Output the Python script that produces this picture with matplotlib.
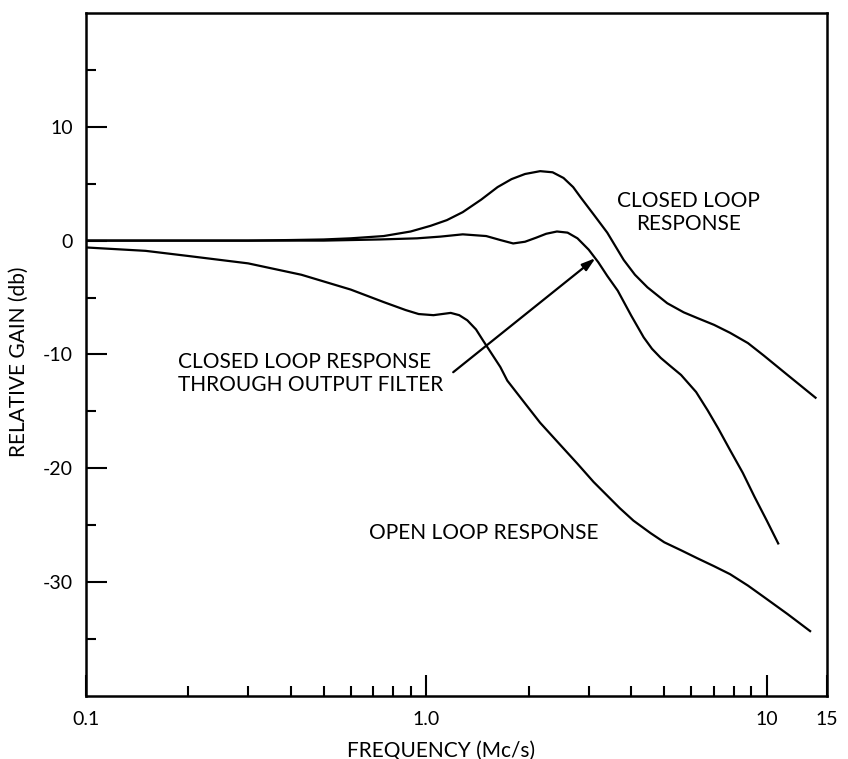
import matplotlib
matplotlib.use('Agg')
import matplotlib.pyplot as plt
from matplotlib.ticker import FixedLocator, NullFormatter
import numpy as np

plt.rcParams['font.family'] = ['Lato', 'DejaVu Sans']

# closed loop response
cl_freq = [0.1, 0.2, 0.3, 0.4, 0.5, 0.6, 0.75, 0.9, 1.03, 1.15, 1.28, 1.45, 1.62, 1.78, 1.95,
           2.16, 2.35, 2.53, 2.7, 2.84, 3.1, 3.4, 3.8, 4.1, 4.46, 5.1, 5.7, 6.25, 7.0, 7.8, 8.8, 9.8, 11.5, 13.9]
cl_gain = [0, 0, 0, 0.05, 0.1, 0.2, 0.4, 0.8, 1.3, 1.8, 2.5, 3.6, 4.7, 5.4, 5.85,
           6.1, 6.0, 5.5, 4.7, 3.8, 2.3, 0.7, -1.7, -3.0, -4.1, -5.5, -6.3, -6.8, -7.4, -8.1, -9.0, -10.1, -11.8, -13.8]

# closed loop response through output filter
flt_freq = [0.1, 0.3, 0.5, 0.73, 0.94, 1.1, 1.28, 1.5, 1.65, 1.8, 1.95, 2.1, 2.25, 2.42,
            2.6, 2.78, 3.0, 3.2, 3.4, 3.65, 4.0, 4.35, 4.6, 4.88, 5.2, 5.6, 6.2, 6.7, 7.2, 7.8, 8.5, 9.2, 10.0, 10.8]
flt_gain = [0, 0, 0, 0.1, 0.2, 0.35, 0.55, 0.4, 0.05, -0.25, -0.1, 0.25, 0.6, 0.8,
            0.7, 0.2, -0.8, -1.9, -3.1, -4.4, -6.6, -8.5, -9.5, -10.3, -11.0, -11.8, -13.3, -14.9, -16.5, -18.4, -20.4, -22.5, -24.6, -26.6]

# open loop response
ol_freq = [0.1, 0.15, 0.2, 0.3, 0.43, 0.6, 0.75, 0.87, 0.95, 1.05, 1.18, 1.25, 1.32, 1.4, 1.47, 1.65,
           1.73, 1.95, 2.16, 2.45, 2.78, 3.1, 3.4, 3.7, 4.06, 4.56, 5.0, 5.6, 6.25, 7.0, 7.8, 8.8, 9.8, 11.5, 13.4]
ol_gain = [-0.6, -0.9, -1.35, -2.0, -3.0, -4.3, -5.4, -6.1, -6.45, -6.55, -6.35, -6.55, -7.0, -7.8, -8.8, -11.1,
           -12.3, -14.3, -16.0, -17.8, -19.6, -21.2, -22.4, -23.5, -24.6, -25.7, -26.5, -27.2, -27.9, -28.6, -29.3, -30.3, -31.3, -32.8, -34.3]

xticks = [0.1, 1.0, 10, 15]
xtick_labels = ['0.1', '1.0', '10', '15']
yticks = [10, 0, -10, -20, -30]

fs = 15
fig = plt.figure(figsize=(8.48, 7.59), dpi=100)
ax = fig.add_axes([0.101, 0.083, 0.874, 0.9])

for f, g in [(cl_freq, cl_gain), (flt_freq, flt_gain), (ol_freq, ol_gain)]:
    ax.plot(f, g, '-', color='black', lw=1.6)

ax.set_xscale('log')
ax.set_xlim(0.1, 15)
ax.set_ylim(-40, 20)

ax.xaxis.set_minor_locator(FixedLocator([v * d for d in [0.1, 1.0] for v in range(2, 10)]))
ax.xaxis.set_minor_formatter(NullFormatter())
ax.set_xticks(xticks)
ax.set_xticklabels(xtick_labels, fontsize=fs - 1)
ax.set_yticks(yticks)
ax.set_yticklabels([str(v) for v in yticks], fontsize=fs - 1)
ax.yaxis.set_minor_locator(FixedLocator([15, 5, -5, -15, -25, -35]))
ax.tick_params(which='major', direction='in', length=15, width=1.5, pad=9)
ax.tick_params(which='minor', direction='in', length=7, width=1.5)
ax.tick_params(axis='x', which='major', pad=11)
for s in ax.spines.values():
    s.set_linewidth(1.8)

ax.set_xlabel('FREQUENCY (Mc/s)', fontsize=fs)
ax.xaxis.set_label_coords(0.48, -0.065)
ax.set_ylabel('RELATIVE GAIN (db)', fontsize=fs)
ax.yaxis.set_label_coords(-0.077, 0.49)

ax.text(5.9, 2.5, 'CLOSED LOOP\nRESPONSE', fontsize=fs, ha='center', va='center',
        multialignment='center', linespacing=1.2)
ax.text(0.187, -11.7, 'CLOSED LOOP RESPONSE\nTHROUGH OUTPUT FILTER', fontsize=fs,
        ha='left', va='center', linespacing=1.2)
ax.text(1.48, -25.7, 'OPEN LOOP RESPONSE', fontsize=fs, ha='center', va='center')

ax.annotate('', xy=(3.14, -1.54), xytext=(1.20, -11.56),
            arrowprops=dict(arrowstyle='-|>,head_length=0.8,head_width=0.25',
                            color='black', lw=1.6, shrinkA=0, shrinkB=0))

fig.savefig('out.png', dpi=100)
